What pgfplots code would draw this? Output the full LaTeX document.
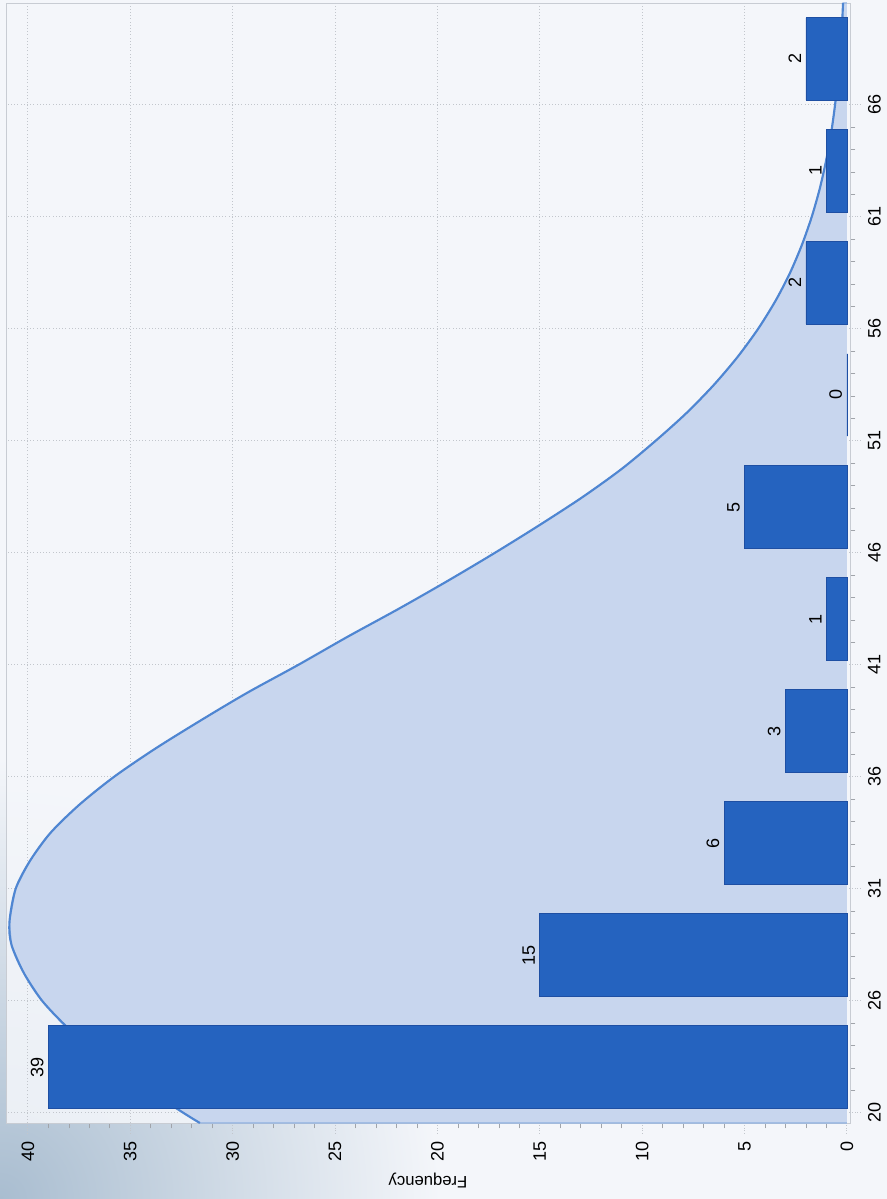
\documentclass[border=0pt]{standalone}
\usepackage{fontspec}
\setmainfont{Liberation Sans}
\usepackage{pgfplots}
\pgfplotsset{compat=1.18}
\definecolor{barfill}{HTML}{2563BF}
\definecolor{baredge}{HTML}{1E4FA3}
\definecolor{curvec}{HTML}{4F86D2}
\definecolor{areafill}{HTML}{C8D6EE}
\definecolor{areaedge}{HTML}{8FB0E0}
\definecolor{plotbg}{HTML}{F5F7FB}
\definecolor{pagebg}{HTML}{F4F6FA}
\definecolor{cornerc}{HTML}{A9BDD0}
\definecolor{gridc}{HTML}{C2C6CC}
\definecolor{framec}{HTML}{C8CCD3}
\definecolor{tickc}{HTML}{A0A4AA}
\begin{document}
\begin{tikzpicture}
\fill[pagebg] (-4.5pt,-57pt) rectangle (660.75pt,842.25pt);
\begin{scope}
\clip (-4.5pt,-57pt) rectangle (660.75pt,842.25pt);
\shade[inner color=cornerc, outer color=pagebg] (-4.5pt,-57pt) circle (330pt);
\end{scope}
\begin{axis}[at={(0,0)}, anchor=south west, scale only axis,
  width=633pt, height=840pt,
  x dir=reverse, xmin=-0.15, xmax=41.07, ymin=-0.09, ymax=9.91,
  xtick={0,5,...,40}, minor x tick num=4,
  ytick={0,...,9}, yticklabels={20,26,31,36,41,46,51,56,61,66}, minor y tick num=4,
  xtick pos=left, ytick pos=right, yticklabel pos=right,
  tick align=outside, major tick length=8pt, minor tick length=4pt,
  grid=major, major grid style={dotted, gridc, line width=0.8pt},
  axis line style={framec},
  major tick style={dotted, gridc, line width=0.8pt},
  minor tick style={solid, tickc, line width=0.5pt},
  axis background/.style={fill=plotbg, fill opacity=0.85},
  /pgf/number format/assume math mode=true,
  xticklabel shift=2pt, yticklabel shift=2pt,
  xticklabel style={rotate=90, anchor=east, font=\fontsize{13.5}{15}\selectfont},
  yticklabel style={rotate=90, anchor=north, font=\fontsize{13.5}{15}\selectfont},
  xlabel={Frequency},
  xlabel style={rotate=180, at={(axis description cs:0.5,-0.0515)}, anchor=center, font=\fontsize{12.5}{14}\selectfont},
]
\addplot[fill=areafill, draw=areaedge, line width=0.8pt] coordinates {
(0,-0.09) (31.6,-0.09) (32.4,0) (34.5,0.25) (36.4,0.5) (38.0,0.75) (39.3,1.0) (40.2,1.25) (40.8,1.5) (40.9,1.705)
(40.6,2.0) (39.9,2.25) (38.9,2.5) (37.5,2.75) (35.8,3.0) (33.8,3.25) (31.6,3.5) (29.3,3.75) (26.8,4.0)
(24.4,4.25) (21.9,4.5) (19.5,4.75) (17.2,5.0) (15.0,5.25) (12.9,5.5) (11.0,5.75) (9.35,6.0) (7.83,6.25)
(6.50,6.5) (5.34,6.75) (4.34,7.0) (3.49,7.25) (2.78,7.5) (2.20,7.75) (1.72,8.0) (1.33,8.25) (1.02,8.5)
(0.77,8.75) (0.58,9.0) (0.43,9.25) (0.32,9.5) (0.23,9.75) (0.19,9.91) (0,9.91)};
\addplot[curvec, line width=1.6pt, smooth] coordinates {
(31.6,-0.09) (32.4,0) (34.5,0.25) (36.4,0.5) (38.0,0.75) (39.3,1.0) (40.2,1.25) (40.8,1.5) (40.9,1.705)
(40.6,2.0) (39.9,2.25) (38.9,2.5) (37.5,2.75) (35.8,3.0) (33.8,3.25) (31.6,3.5) (29.3,3.75) (26.8,4.0)
(24.4,4.25) (21.9,4.5) (19.5,4.75) (17.2,5.0) (15.0,5.25) (12.9,5.5) (11.0,5.75) (9.35,6.0) (7.83,6.25)
(6.50,6.5) (5.34,6.75) (4.34,7.0) (3.49,7.25) (2.78,7.5) (2.20,7.75) (1.72,8.0) (1.33,8.25) (1.02,8.5)
(0.77,8.75) (0.58,9.0) (0.43,9.25) (0.32,9.5) (0.23,9.75) (0.19,9.91)};
\addplot[xbar, bar width=0.735, fill=barfill, draw=baredge, line width=0.6pt,
  nodes near coords,
  nodes near coords style={rotate=90, anchor=south, text=black, font=\fontsize{13.5}{15}\selectfont}]
  coordinates {(39,0.41) (15,1.41) (6,2.41) (3,3.41) (1,4.41) (5,5.41) (0,6.41) (2,7.41) (1,8.41) (2,9.41)};
\end{axis}
\pgfresetboundingbox
\useasboundingbox (-4.5pt,-57pt) rectangle (660.75pt,842.25pt);
\end{tikzpicture}
\end{document}
